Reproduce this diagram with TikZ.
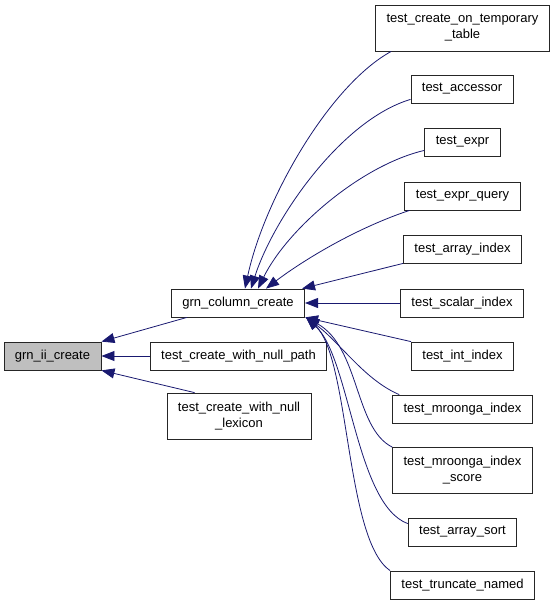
\documentclass[tikz,border=0pt]{standalone}
\usepackage{fontspec}
\setmainfont{Liberation Sans}
\usetikzlibrary{arrows.meta}
\definecolor{callblue}{RGB}{25,25,112}
\begin{document}
\begin{tikzpicture}[x=1pt,y=-1pt]
    \tikzstyle{fn}=[draw=black!85, fill=white, line width=0.8pt, inner xsep=11pt, inner ysep=0pt,
                    minimum height=28pt, align=center, font=\fontsize{13}{16}\selectfont]
    \tikzstyle{fntall}=[fn, minimum height=46pt]
    \tikzstyle{call}=[draw=callblue, line width=0.8pt, -{Triangle[length=13pt,width=10pt]}]
    \useasboundingbox (0,0) rectangle (555,605);

    \node[fn, fill=black!25] (ii)       at (52.5,356)  {grn\_ii\_create};
    \node[fn]                (col)      at (238,303)   {grn\_column\_create};
    \node[fn]                (nullpath) at (238.5,356) {test\_create\_with\_null\_path};
    \node[fntall]            (lexicon)  at (239,416)   {test\_create\_with\_null\\\_lexicon};

    \node[fntall] (temp)    at (462.5,28)  {test\_create\_on\_temporary\\\_table};
    \node[fn]     (acc)     at (462,89)    {test\_accessor};
    \node[fn]     (expr)    at (462.5,142) {test\_expr};
    \node[fn]     (exprq)   at (462.5,196) {test\_expr\_query};
    \node[fn]     (arridx)  at (462.5,249) {test\_array\_index};
    \node[fn]     (scal)    at (462,303)   {test\_scalar\_index};
    \node[fn]     (intidx)  at (462.5,356) {test\_int\_index};
    \node[fn]     (mro)     at (462.5,409) {test\_mroonga\_index};
    \node[fntall] (mros)    at (462.5,470.5) {test\_mroonga\_index\\\_score};
    \node[fn]     (sort)    at (462.5,532) {test\_array\_sort};
    \node[fn]     (trunc)   at (462.5,585) {test\_truncate\_named};

    \draw[call] ([xshift=16pt]col.south west) -- (ii.north east);
    \draw[call] (nullpath.west) -- (ii.east);
    \draw[call] ([xshift=28pt]lexicon.north west) -- (ii.south east);

    \draw[call] ([xshift=16pt]temp.south west) .. controls +(-62,34) and +(19,-89) .. ([xshift=7pt]col.north);
    \draw[call] ([yshift=4pt]acc.south west) .. controls +(-70,21) and +(22,-69) .. ([xshift=13pt]col.north);
    \draw[call] ([yshift=6pt]expr.south west) .. controls +(-64,15) and +(29,-59) .. ([xshift=20pt]col.north);
    \draw[call] ([xshift=5pt]exprq.south west) .. controls +(-60,20) and +(30,-23) .. ([xshift=28pt]col.north);
    \draw[call] (arridx.south west) -- ([xshift=-3pt]col.north east);
    \draw[call] (scal.west) -- (col.east);
    \draw[call] (intidx.north west) -- (col.south east);
    \draw[call] ([xshift=7pt]mro.north west) .. controls +(-35,-15) and +(34,25) .. ([xshift=1pt]col.south east);
    \draw[call] (mros.north west) .. controls +(-38,-19) and +(54,30) .. ([xshift=1pt]col.south east);
    \draw[call] ([yshift=-6pt]sort.north west) .. controls +(-52,-19) and +(44,40) .. ([xshift=1pt]col.south east);
    \draw[call] (trunc.north west) .. controls +(-45,-31) and +(44,40) .. ([xshift=1pt]col.south east);

\end{tikzpicture}
\end{document}
